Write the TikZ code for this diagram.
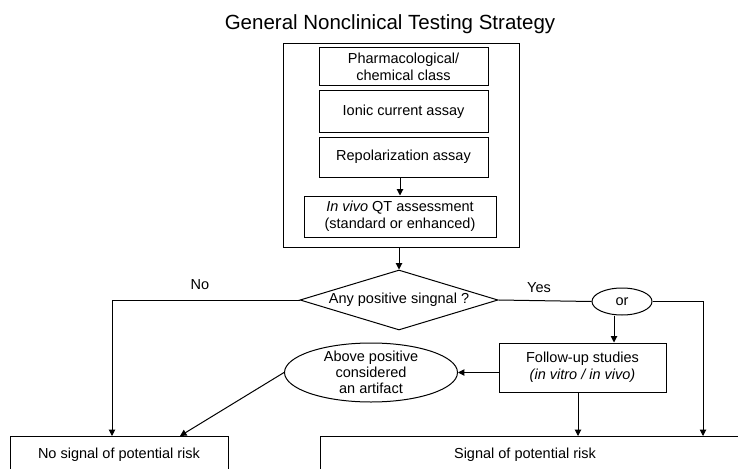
\documentclass[tikz,border=0pt]{standalone}
\usepackage{fontspec}
\setmainfont{Liberation Sans}
\usetikzlibrary{shapes.geometric,arrows.meta}
\begin{document}
\begin{tikzpicture}[x=1pt,y=-1pt,
  every node/.style={font=\fontsize{14.5}{17}\selectfont, text=black},
  line/.style={draw=black, line width=1pt},
  arr/.style={line, -{Triangle[length=6.5pt,width=6.5pt]}},
  box/.style={draw=black, line width=1pt, rectangle, inner sep=0pt, align=center},
  oval/.style={draw=black, line width=1pt, ellipse, align=center},
  decision/.style={draw=black, line width=1pt, diamond, aspect=3.3, inner sep=0pt}
]
\useasboundingbox (0,0) rectangle (738,468);
\fill[white] (0,0) rectangle (738,468);

% heading
\node[font=\fontsize{20.5}{24}\selectfont, anchor=base] (title) at (390,30) {General Nonclinical Testing Strategy};

% battery of assays
\node[box, minimum width=236, minimum height=203] (outer) at (401,145.5) {};
\node[box, minimum width=169, minimum height=38] (pharm) at (403.5,67) {Pharmacological/\\chemical class};
\node[box, minimum width=169, minimum height=41] (ionic) at (403.5,111.5) {Ionic current assay};
\node[box, minimum width=169, minimum height=40] (repol) at (403.5,157) {Repolarization assay};
\node[box, minimum width=192, minimum height=41] (invivo) at (400,216.5) {\textit{In vivo} QT assessment\\(standard or enhanced)};

% decision
\node[decision, minimum width=198, minimum height=60] (dia) at (399,300) {Any positive singnal ?};
\node[oval, minimum width=60, minimum height=27, inner sep=0pt] (or) at (622,301.5) {or};
\node[box, minimum width=167, minimum height=49] (fu) at (582.5,367.5) {Follow-up studies\\\textit{(in vitro / in vivo)}};
\node[oval, font=\fontsize{14.5}{16}\selectfont, inner xsep=14pt, inner ysep=-2pt,
      minimum width=172, minimum height=59] (art) at (371,372.5) {Above positive\\considered\\an artifact};

% outcomes
\node[box, minimum width=218, minimum height=38] (nosig) at (119,455) {No signal of potential risk};
\node[box, minimum width=440, minimum height=38, anchor=north west] (sig) at (320,436) {};
\node (sigtext) at (525,455) {Signal of potential risk};

% branch labels
\node (no) at (200,285) {No};
\node (yes) at (539,288) {Yes};

% connector anchor points
\coordinate (noin) at (112,436);
\coordinate (artin) at (180,436);
\coordinate (orcol) at (614,0);
\coordinate (fucol) at (578,0);
\coordinate (yesin) at (703,436);

% connectors
\draw[arr] (repol.south -| invivo.north) -- (invivo.north);
\draw[arr] (outer.south -| dia.north) -- (dia.north);
\draw[arr] (dia.west) -| (noin);
\draw[line] (dia.east) -- (or.west);
\draw[arr] (or.east) -| (yesin);
\draw[arr] (orcol |- or.south) -- (orcol |- fu.north);
\draw[arr] (fu.west |- art.east) -- (art.east);
\draw[arr] (art.west) -- (artin);
\draw[arr] (fucol |- fu.south) -- (fucol |- sig.north);
\end{tikzpicture}
\end{document}
